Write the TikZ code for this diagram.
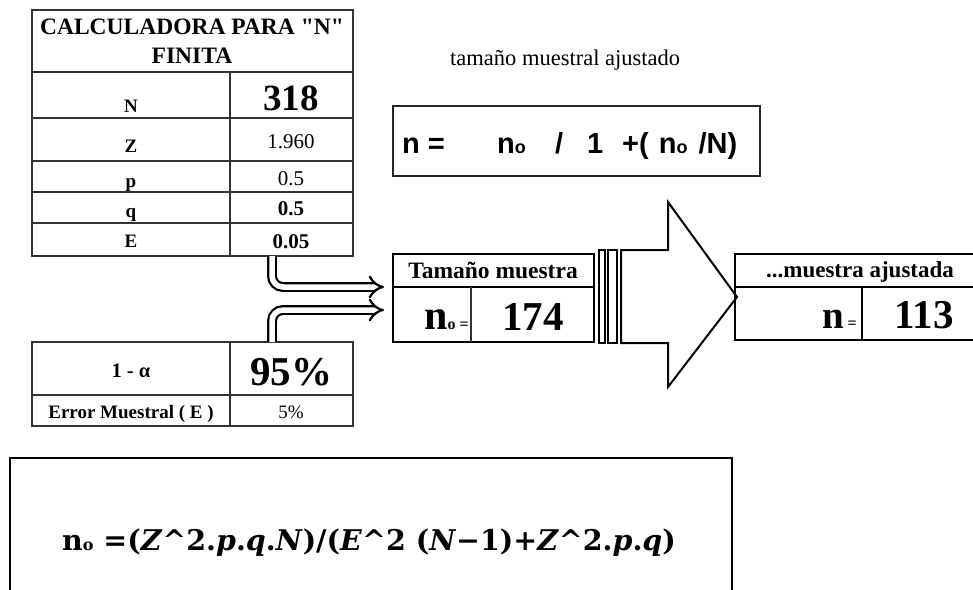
\documentclass[tikz,border=0pt]{standalone}
\usepackage{fontspec}
\setmainfont{Liberation Serif}
\newfontfamily\titlef{Liberation Serif}
\newfontfamily\arialf{Liberation Sans}
\newfontfamily\cambf{DejaVu Serif}
\usetikzlibrary{arrows.meta}
\newcommand\fsz[1]{\fontsize{#1}{#1}\selectfont}
\begin{document}
\begin{tikzpicture}[x=1pt,y=-1pt,
  grid/.style={draw=black!80, line width=1.2pt},
  gridb/.style={draw=black, line width=1.7pt},
  lbl/.style={inner sep=0pt, anchor=base},
  tube/.style={draw=black, line width=2.2pt, double=white, double distance=5.5pt, rounded corners=11pt, -{Implies[scale=1.25]}},
  ]
\useasboundingbox (0,0) rectangle (973,589);

% ---------- top-left table ----------
\draw[grid] (32,10) rectangle (353,256);
\draw[grid] (32,72) -- (353,72) (32,118) -- (353,118) (32,161) -- (353,161)
            (32,192) -- (353,192) (32,223) -- (353,223) (230,72) -- (230,256);
\node[inner sep=0pt, align=center, font=\titlef\fsz{23.5}\bfseries, anchor=base] (title) at (192,63)
  {CALCULADORA PARA "N"\\[5.5pt]FINITA};
\node[lbl, font=\fsz{19}\bfseries] (lN) at (131,112) {N};
\node[lbl, font=\fsz{37}\bfseries] (vN) at (291,110) {318};
\node[lbl, font=\fsz{19}\bfseries] (lZ) at (131,152) {Z};
\node[lbl, font=\fsz{21}] (vZ) at (291,148) {1.960};
\node[lbl, font=\fsz{19}\bfseries] (lp) at (131,187) {p};
\node[lbl, font=\fsz{21}] (vp) at (291,185) {0.5};
\node[lbl, font=\fsz{19}\bfseries] (lq) at (131,217) {q};
\node[lbl, font=\fsz{21}\bfseries] (vq) at (291,215) {0.5};
\node[lbl, font=\fsz{19}\bfseries] (lE) at (131,247) {E};
\node[lbl, font=\fsz{21}\bfseries] (vE) at (291,248) {0.05};

% ---------- bottom-left table ----------
\draw[grid] (32,342) rectangle (353,426);
\draw[grid] (32,395) -- (353,395) (230,342) -- (230,426);
\node[lbl, font=\fsz{20.5}\bfseries] (lconf) at (131,377) {1 - α};
\node[lbl, font=\fsz{41}\bfseries] (vconf) at (291,385) {95\%};
\node[lbl, font=\fsz{19}\bfseries] (lerr) at (131,418) {Error Muestral ( E )};
\node[lbl, font=\fsz{19}] (verr) at (291,418) {5\%};

% ---------- hollow bent arrows ----------
\coordinate (t1s) at (272,256);
\coordinate (t1e) at (384,287);
\coordinate (t2s) at (272,342);
\coordinate (t2e) at (384,310);
\draw[tube] (t1s) |- (t1e);
\draw[tube] (t2s) |- (t2e);

% ---------- label and formula box ----------
\node[lbl, anchor=base west, font=\fsz{22.5}] (adj) at (450,65) {tamaño muestral ajustado};
\draw[line width=1.3pt, draw=black!85] (393,106) rectangle (760,176);
\node[lbl, anchor=base west, font=\arialf\bfseries\fsz{29}] (fadj) at (402,153)
  {\makebox[95pt][l]{n =}\makebox[58pt][l]{n{\fsz{18}o}}\makebox[32pt][l]{/}\makebox[35pt][l]{1}+(\hspace{10pt}n{\fsz{18}o}\hspace{3pt} /N)};

% ---------- Tamaño muestra table ----------
\draw[gridb] (393,254) rectangle (594,342);
\draw[gridb] (393,287) -- (594,287);
\draw[grid] (471,287) -- (471,342);
\node[lbl, font=\fsz{23.5}\bfseries] (tm) at (493,278) {Tamaño muestra};
\node[lbl, anchor=base east, font=\fsz{42}\bfseries] (n0) at (469,329) {n{\fsz{16}o =}};
\node[lbl, font=\fsz{41}\bfseries] (v174) at (533,330) {174};

% ---------- striped block arrow ----------
\draw[line width=1.4pt] (599,250) rectangle (605,343);
\draw[line width=1.4pt] (608,250) rectangle (617,343);
\draw[line width=2pt, line join=miter] (621,250) -- (668,250) -- (668,202) -- (737,297)
      -- (668,387) -- (668,343) -- (621,343) -- cycle;

% ---------- adjusted sample table ----------
\draw[gridb] (735,254) rectangle (985,340);
\draw[gridb] (735,287) -- (985,287) (862,287) -- (862,340);
\node[lbl, font=\fsz{23}\bfseries] (ma) at (860,277) {...muestra ajustada};
\node[lbl, anchor=base east, font=\fsz{39}\bfseries] (nadj) at (857,328) {n\hspace{4pt}{\fsz{16}=}};
\node[lbl, font=\fsz{41}\bfseries] (v113) at (924,328) {113};

% ---------- bottom formula ----------
\draw[line width=1.8pt] (10,458) rectangle (732,600);
\node[lbl, font=\cambf\bfseries\fsz{28.5}] (f0) at (369,550)
  {n{\fsz{16}o} =(\textit{Z}\textasciicircum 2.\textit{p}.\textit{q}.\textit{N})/(\textit{E}\textasciicircum 2 (\textit{N}−1)+\textit{Z}\textasciicircum 2.\textit{p}.\textit{q})};
\end{tikzpicture}
\end{document}
